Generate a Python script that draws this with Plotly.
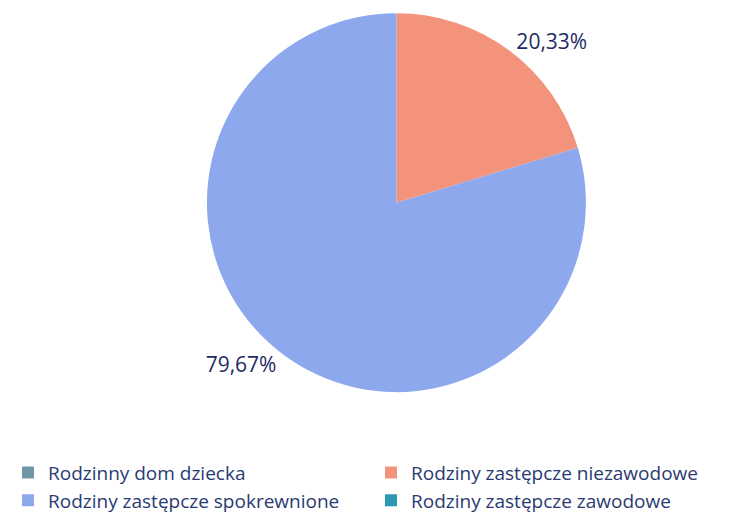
import plotly.graph_objects as go

# Udział form pieczy zastępczej
labels = [
    "Rodzinny dom dziecka",
    "Rodziny zastępcze niezawodowe",
    "Rodziny zastępcze spokrewnione",
    "Rodziny zastępcze zawodowe",
]
shares = [0, 20.33, 79.67, 0]

COLORS = ["#6e98a6", "#f3937c", "#8ea8ee", "#2b98b4"]
TEXT = "#1f2b66"

fig = go.Figure(go.Pie(
    labels=labels,
    values=shares,
    sort=False,
    direction="clockwise",
    rotation=0,
    marker=dict(colors=COLORS, line=dict(width=0)),
    textposition="outside",
    texttemplate=["", "%{percent:.2%}", "%{percent:.2%}", ""],
    textfont=dict(size=21, color=TEXT),
    domain=dict(x=[0.16, 0.91], y=[0.257, 0.99]),
    hoverinfo="label+percent",
))

fig.update_layout(
    width=751,
    height=517,
    separators=", ",
    font=dict(family="Open Sans, Lato, sans-serif", color=TEXT),
    paper_bgcolor="white",
    plot_bgcolor="white",
    margin=dict(l=0, r=0, t=0, b=0),
    legend=dict(
        orientation="h",
        x=0.0,
        xanchor="left",
        y=0.138,
        yanchor="top",
        entrywidth=0.5,
        entrywidthmode="fraction",
        font=dict(size=19, color="#2a3a72"),
        tracegroupgap=0,
        itemclick=False,
    ),
)

fig.write_html("out.html")
